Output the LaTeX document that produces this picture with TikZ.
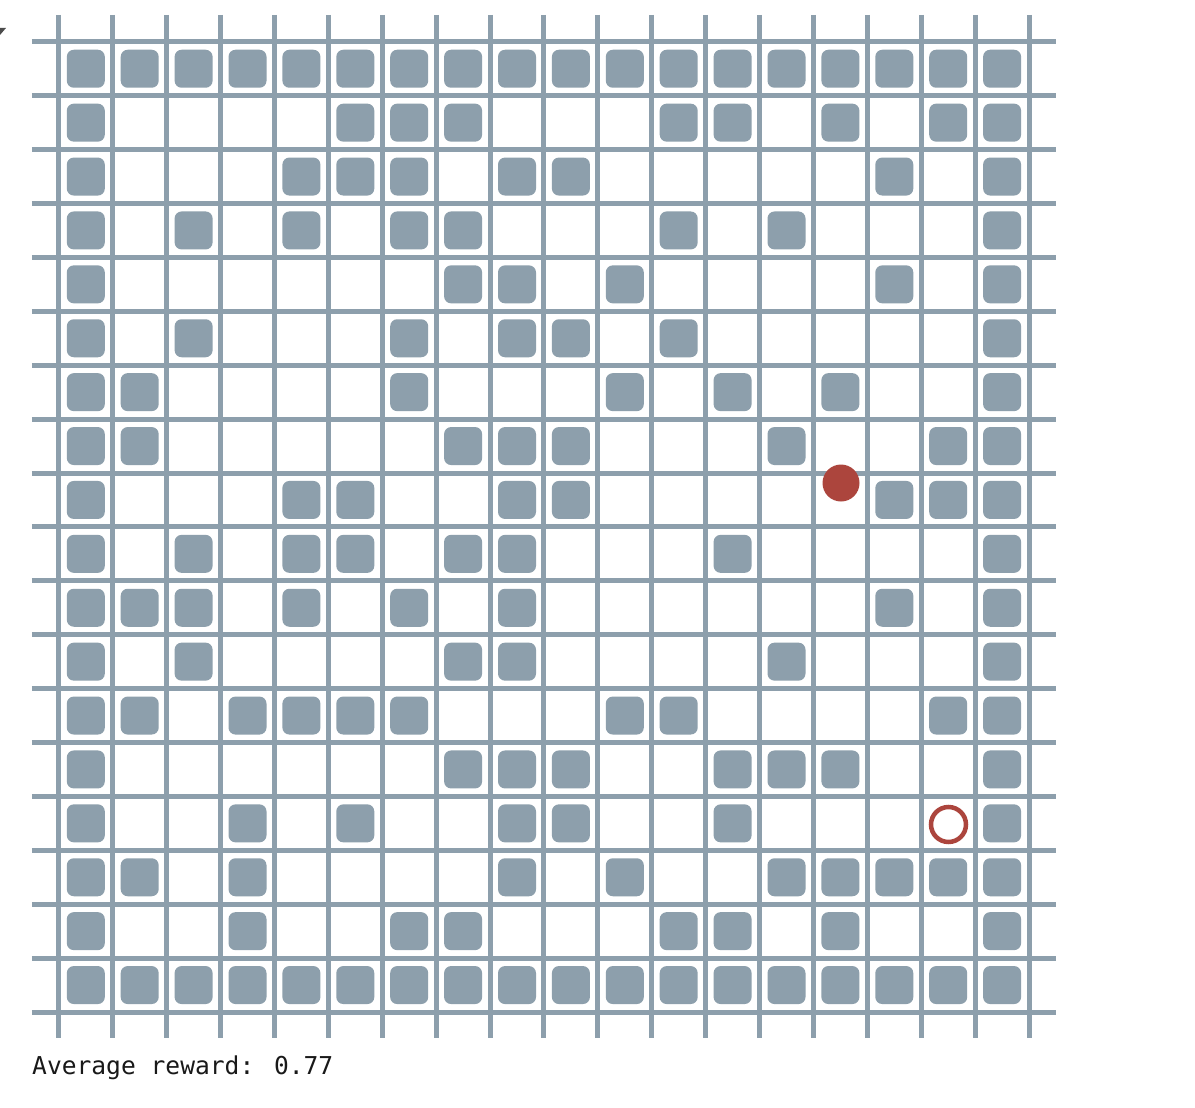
\documentclass[tikz,border=0pt]{standalone}
\usepackage{fontspec}
\newfontfamily\labelmono{DejaVu Sans Mono}
\definecolor{gridc}{HTML}{8D9FAC}
\definecolor{agentc}{HTML}{AC453D}
\begin{document}
\begin{tikzpicture}[x=1pt,y=-1pt,
  gridline/.style={draw=gridc,line width=5pt},
  wall/.style={fill=gridc,rounded corners=7pt},
  agentdot/.style={fill=agentc},
  goalring/.style={draw=agentc,line width=4.5pt},
  caption/.style={anchor=base west,inner sep=0pt,font=\labelmono\fontsize{24.6}{30}\selectfont,text=black!90}]
\useasboundingbox (0,0) rectangle (1195,1108);
\fill[white] (0,0) rectangle (1195,1108);
% corner mark
\fill[black!70] (0,28) -- (6,28) -- (0,35) -- cycle;
% grid lines
\foreach \k in {0,...,18} {
  \pgfmathsetmacro\p{58.8+53.9*\k}
  \draw[gridline] (\p,14.8) -- (\p,1037.8);
  \pgfmathsetmacro\q{41.8+53.9*\k}
  \draw[gridline] (31.8,\q) -- (1056,\q);
}
% walls
\foreach \r/\cols in {
  0/{0,1,2,3,4,5,6,7,8,9,10,11,12,13,14,15,16,17},
  1/{0,5,6,7,11,12,14,16,17},
  2/{0,4,5,6,8,9,15,17},
  3/{0,2,4,6,7,11,13,17},
  4/{0,7,8,10,15,17},
  5/{0,2,6,8,9,11,17},
  6/{0,1,6,10,12,14,17},
  7/{0,1,7,8,9,13,16,17},
  8/{0,4,5,8,9,15,16,17},
  9/{0,2,4,5,7,8,12,17},
  10/{0,1,2,4,6,8,15,17},
  11/{0,2,7,8,13,17},
  12/{0,1,3,4,5,6,10,11,16,17},
  13/{0,7,8,9,12,13,14,17},
  14/{0,3,5,8,9,12,17},
  15/{0,1,3,8,10,13,14,15,16,17},
  16/{0,3,6,7,11,12,14,17},
  17/{0,1,2,3,4,5,6,7,8,9,10,11,12,13,14,15,16,17}} {
  \foreach \c in \cols {
    \pgfmathsetmacro\cx{85.8+53.9*\c}
    \pgfmathsetmacro\cy{68.75+53.9*\r}
    \fill[wall] (\cx-19,\cy-19) rectangle (\cx+19,\cy+19);
  }
}
% agent and goal
\fill[agentdot] (841,483) circle (18.5pt);
\draw[goalring] (948.5,824.5) circle (17.5pt);
% caption
\node[caption] (avg) at (32,1074.5) {Average reward: 0.77};
\end{tikzpicture}
\end{document}
